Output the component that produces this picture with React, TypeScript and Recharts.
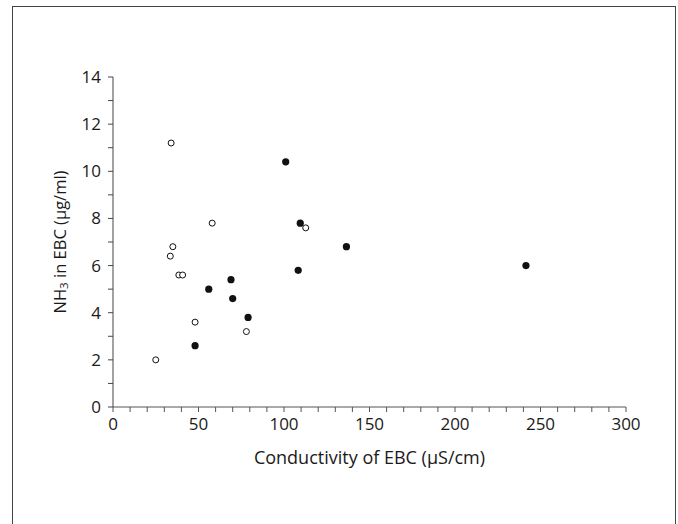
import React from 'react';
import { ScatterChart, Scatter, XAxis, YAxis } from 'recharts';

// open circles (one group) and filled circles (other group)
const openX = [34, 58, 35, 33.5, 38.5, 40.7, 48, 78, 25, 112.7];
const openY = [11.2, 7.8, 6.8, 6.4, 5.6, 5.6, 3.6, 3.2, 2.0, 7.6];
const filledX = [101, 109.5, 108.3, 69, 56, 70, 79, 48, 136.5, 241.5];
const filledY = [10.4, 7.8, 5.8, 5.4, 5.0, 4.6, 3.8, 2.6, 6.8, 6.0];

const xLabels = [0, 50, 100, 150, 200, 250, 300];
const yLabels = [0, 2, 4, 6, 8, 10, 12, 14];
const xTicks = Array.from({ length: 31 }, (_, i) => i * 10);
const yTicks = Array.from({ length: 15 }, (_, i) => i);

const openData = openX.map((x, i) => ({ x, y: openY[i] }));
const filledData = filledX.map((x, i) => ({ x, y: filledY[i] }));

const FONT = '"Open Sans", "Noto Sans", sans-serif';
const INK = '#1a1a1a';

const OpenDot = (p: any) => (
  <circle cx={p.cx} cy={p.cy} r={3} fill="#fff" stroke="#111" strokeWidth={1} />
);
const FilledDot = (p: any) => <circle cx={p.cx} cy={p.cy} r={3.6} fill="#111" />;

const YLabel = (props: any) => {
  const vb = props.viewBox;
  const x = vb.x + 6;
  const y = vb.y + vb.height / 2;
  return (
    <text
      x={x}
      y={y}
      transform={`rotate(-90 ${x} ${y})`}
      textAnchor="middle"
      dominantBaseline="central"
      fontFamily={FONT}
      fontSize={16.5}
      fill={INK}
    >
      NH
      <tspan fontSize={11.5} dy={4}>3</tspan>
      <tspan dy={-4}> in EBC (μg/ml)</tspan>
    </text>
  );
};

const XLabel = (props: any) => {
  const vb = props.viewBox;
  return (
    <text
      x={vb.x + vb.width / 2}
      y={vb.y + 50}
      textAnchor="middle"
      dominantBaseline="central"
      fontFamily={FONT}
      fontSize={18}
      fill={INK}
    >
      Conductivity of EBC (μS/cm)
    </text>
  );
};

export default function App() {
  return (
    <div style={{ position: 'absolute', left: 0, top: 0, width: 678, height: 524, background: '#fff', overflow: 'hidden' }}>
      <div
        style={{
          position: 'absolute',
          left: 12,
          top: 6,
          width: 662,
          height: 540,
          border: '1.5px solid #444',
          borderBottom: 'none',
        }}
      />
      <ScatterChart width={678} height={524} margin={{ top: 77, right: 52, bottom: 57, left: 53 }}>
        <XAxis
          type="number"
          dataKey="x"
          domain={[0, 300]}
          ticks={xTicks}
          interval={0}
          tickFormatter={(v: number) => (xLabels.includes(v) ? String(v) : '')}
          tickSize={5}
          tickMargin={6}
          height={60}
          stroke="#555"
          tick={{ fill: INK, fontSize: 17, fontFamily: FONT }}
          label={<XLabel />}
        />
        <YAxis
          type="number"
          dataKey="y"
          domain={[0, 14]}
          ticks={yTicks}
          interval={0}
          tickFormatter={(v: number) => (yLabels.includes(v) ? String(v) : '')}
          tickSize={5}
          tickMargin={7}
          width={60}
          stroke="#444"
          tick={{ fill: INK, fontSize: 17, fontFamily: FONT }}
          label={<YLabel />}
        />
        <Scatter data={openData} shape={OpenDot} isAnimationActive={false} />
        <Scatter data={filledData} shape={FilledDot} isAnimationActive={false} />
      </ScatterChart>
    </div>
  );
}
